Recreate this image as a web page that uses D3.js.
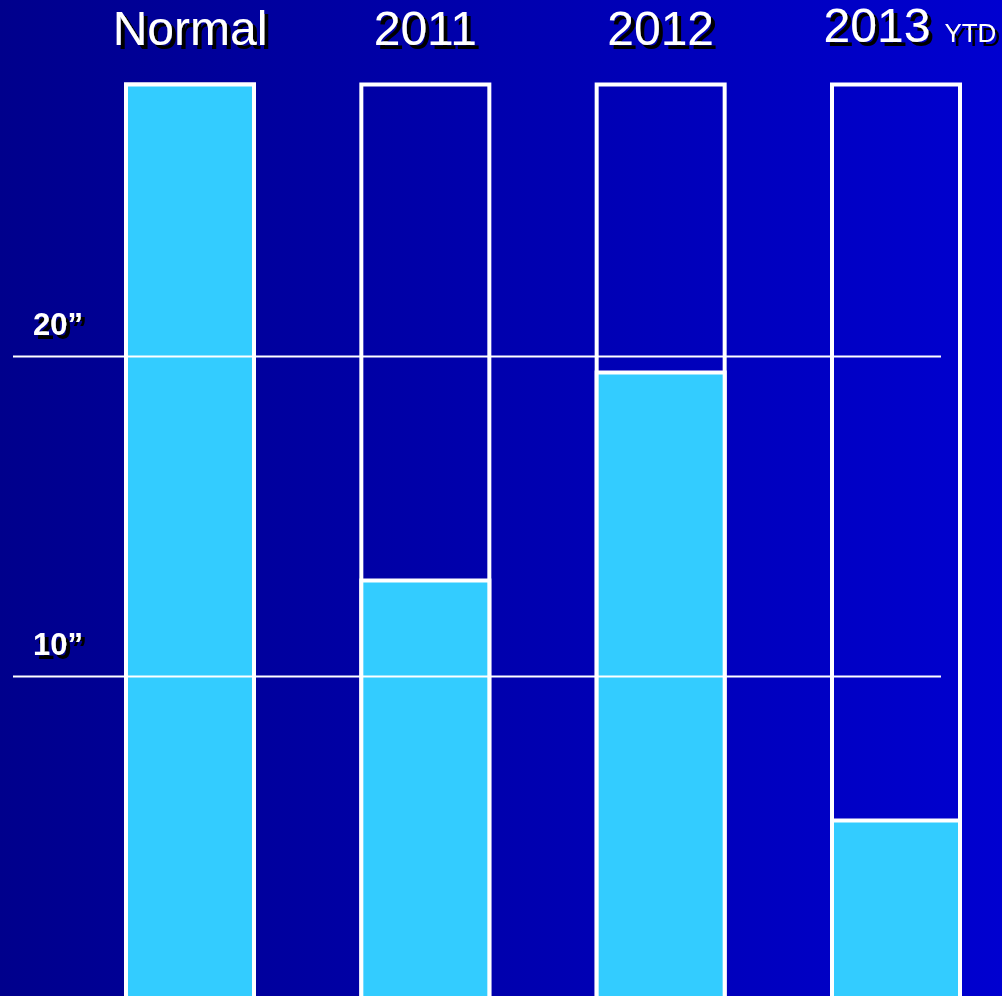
<!DOCTYPE html>
<html><head><meta charset="utf-8">
<script src="https://cdn.jsdelivr.net/npm/d3@7"></script>
<style>html,body{margin:0;padding:0;overflow:hidden;background:#0000AA}</style>
</head><body>
<script>
const categories = ["Normal", "2011", "2012", "2013"];
const suffixes = ["", "", "", "YTD"];
const values = [28.5, 13.0, 19.5, 5.5];
const normalValue = 28.5;
const tickValues = [10, 20];
const tickLabels = ["10\u201D", "20\u201D"];

const W = 1002, H = 996;
const svg = d3.select("body").append("svg").attr("width", W).attr("height", H);

const defs = svg.append("defs");
const grad = defs.append("linearGradient").attr("id", "bg").attr("x1", 0).attr("x2", 1).attr("y1", 0).attr("y2", 0);
grad.append("stop").attr("offset", "0%").attr("stop-color", "#00008C");
grad.append("stop").attr("offset", "100%").attr("stop-color", "#0000D0");
svg.append("rect").attr("width", W).attr("height", H).attr("fill", "url(#bg)");

const f = defs.append("filter").attr("id", "shadow")
  .attr("x", "-10%").attr("y", "-10%").attr("width", "130%").attr("height", "140%");
f.append("feDropShadow").attr("dx", 4).attr("dy", 4).attr("stdDeviation", 0.6)
  .attr("flood-color", "#000").attr("flood-opacity", 1);

const x = d3.scalePoint().domain(categories).range([190, 896]);
const y = d3.scaleLinear().domain([0, 30]).range([996.5, 36.5]);
const bw = 128;

// outline bars (normal height)
svg.selectAll("rect.frame").data(categories).join("rect")
  .attr("class", "frame")
  .attr("x", d => x(d) - bw / 2)
  .attr("y", y(normalValue))
  .attr("width", bw)
  .attr("height", y(0) - y(normalValue) + 20)
  .attr("fill", "none")
  .attr("stroke", "#fff").attr("stroke-width", 4);

// value bars
svg.selectAll("rect.val").data(values).join("rect")
  .attr("class", "val")
  .attr("x", (d, i) => x(categories[i]) - bw / 2)
  .attr("y", d => y(d))
  .attr("width", bw)
  .attr("height", d => y(0) - y(d) + 20)
  .attr("fill", "#33CCFF")
  .attr("stroke", "#fff").attr("stroke-width", 4);

// gridlines
svg.selectAll("line.grid").data(tickValues).join("line")
  .attr("class", "grid")
  .attr("x1", 13).attr("x2", 941)
  .attr("y1", d => y(d)).attr("y2", d => y(d))
  .attr("stroke", "#fff").attr("stroke-width", 2);

// tick labels with shadow
svg.selectAll("text.tick").data(tickValues).join("text")
  .attr("class", "tick")
  .attr("x", 33).attr("y", d => y(d) - 22)
  .attr("font-family", "Liberation Sans, Arial, sans-serif")
  .attr("font-weight", "bold").attr("font-size", 31)
  .attr("fill", "#fff")
  .attr("filter", "url(#shadow)")
  .text((d, i) => tickLabels[i]);

// category labels with shadow
const t = svg.selectAll("text.cat").data(categories).join("text")
  .attr("class", "cat")
  .attr("x", (d, i) => x(d) + (suffixes[i] ? 14 : 0))
  .attr("y", (d, i) => suffixes[i] ? 42 : 45)
  .attr("text-anchor", "middle")
  .attr("font-family", "Liberation Sans, Arial, sans-serif")
  .attr("font-size", 48)
  .attr("fill", "#fff")
  .attr("filter", "url(#shadow)");
t.append("tspan").text(d => d);
t.append("tspan").attr("font-size", 26).attr("dx", (d, i) => suffixes[i] ? 14 : 0)
  .text((d, i) => suffixes[i]);
</script>
</body></html>
